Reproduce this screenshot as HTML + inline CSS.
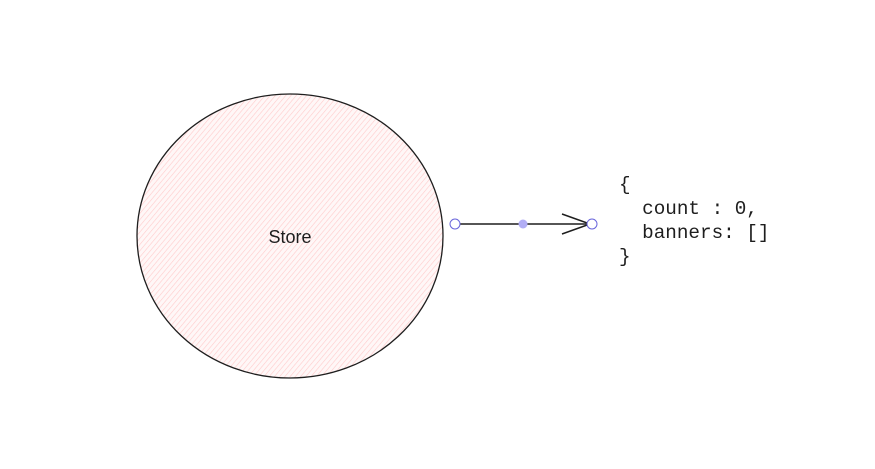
<!DOCTYPE html>
<html><head><style>
html,body{margin:0;padding:0;background:#fff;}
</style></head><body>
<svg width="875" height="464" viewBox="0 0 875 464" xmlns="http://www.w3.org/2000/svg">
<defs>
<pattern id="h" patternUnits="userSpaceOnUse" width="4" height="4" patternTransform="rotate(40)">
<rect width="4" height="4" fill="#fff7f7"/>
<line x1="0" y1="0" x2="0" y2="4" stroke="#ffcaca" stroke-width="1.2"/>
</pattern>
</defs>
<ellipse cx="290" cy="236" rx="153" ry="142" fill="url(#h)" stroke="#1e1e1e" stroke-width="1.3"/>
<text x="290" y="243" text-anchor="middle" font-family="'Comic Sans MS','Liberation Sans',sans-serif" font-size="18" fill="#1e1e1e">Store</text>
<line x1="455" y1="224" x2="592" y2="224" stroke="#1e1e1e" stroke-width="1.6"/>
<path d="M562 214 L590 224 L562 234" fill="none" stroke="#1e1e1e" stroke-width="1.5"/>
<circle cx="455" cy="224" r="5" fill="#fff" stroke="#6965db" stroke-width="1"/>
<circle cx="523" cy="224" r="4.5" fill="#b2aef5"/>
<circle cx="592" cy="224" r="5" fill="#fff" stroke="#6965db" stroke-width="1"/>
<g font-family="'Liberation Mono',monospace" font-size="19.3" fill="#1e1e1e">
<text x="619" y="190">{</text>
<text x="619" y="214" xml:space="preserve">  count : 0,</text>
<text x="619" y="238" xml:space="preserve">  banners: []</text>
<text x="619" y="262">}</text>
</g>
</svg>
</body></html>
